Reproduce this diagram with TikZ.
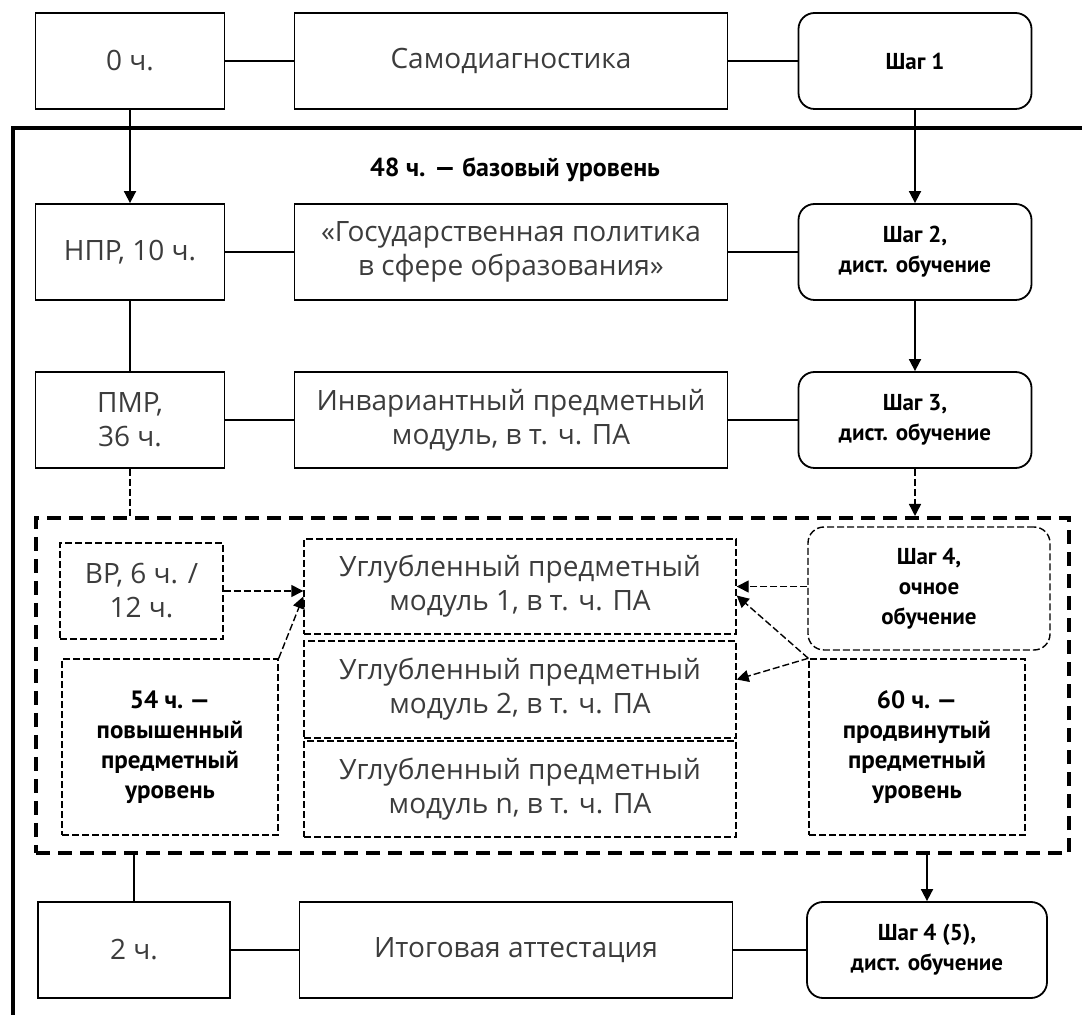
\documentclass[tikz,border=0pt]{standalone}
\usepackage{fontspec}
\setmainfont{Open Sans}
\newfontfamily\stepfont{PT Sans}
\usetikzlibrary{arrows.meta, positioning, calc}
\definecolor{textgray}{RGB}{60,60,60}

\begin{document}
\begin{tikzpicture}[x=0.5pt, y=-0.5pt, font=\fontsize{14}{17}\selectfont]
		% Styles for boxes and links
		\tikzset{box/.style={draw, line width=0.9pt, align=center, text=textgray, inner sep=0pt, minimum height=48pt}}
		\tikzset{stepbox/.style={box, rounded corners=8pt, text=black, font=\stepfont\bfseries\fontsize{11.5}{15}\selectfont}}
		\tikzset{dbox/.style={line width=0.7pt, dash pattern=on 3.5pt off 1.5pt}}
		\tikzset{bold/.style={text=black, font=\stepfont\bfseries\fontsize{12.5}{15}\selectfont}}
		\tikzset{link/.style={line width=0.9pt}}
		\tikzset{arr/.style={link, -{Triangle[length=6pt, width=6pt]}}}
		\tikzset{darr/.style={arr, line width=0.7pt, dash pattern=on 3.5pt off 1.5pt}}
		\tikzset{colA/.style={minimum width=94.5pt}}
		\tikzset{colB/.style={minimum width=216.5pt}}
		\tikzset{colC/.style={minimum width=116.5pt}}
		
		\useasboundingbox (0,0) rectangle (1082,1015);
		
		% Outer frame
		\draw[line width=2pt] (13,1015) -- (13,128) -- (1082,128);
		\node[bold, font=\stepfont\bfseries\fontsize{13}{15}\selectfont] (base) at (515,170) {48 ч. — базовый уровень};
		
		% Row 1
		\node[box, colA] (h0) at (130,61) {0 ч.};
		\node[box, colB] (self) at (511,61) {Самодиагностика};
		\node[stepbox, colC] (s1) at (915,61) {Шаг 1};
		
		% Row 2
		\node[box, colA] (npr) at (130,252) {НПР, 10 ч.};
		\node[box, colB] (gos) at (511,252) {«Государственная политика\\в сфере образования»};
		\node[stepbox, colC] (s2) at (915,252) {Шаг 2,\\дист. обучение};
		
		% Row 3
		\node[box, colA] (pmr) at (130,420) {ПМР,\\36 ч.};
		\node[box, colB] (inv) at (511,420) {Инвариантный предметный\\модуль, в т. ч. ПА};
		\node[stepbox, colC] (s3) at (915,420) {Шаг 3,\\дист. обучение};
		
		% Optional part
		\node[draw, line width=2pt, dash pattern=on 7pt off 4pt, minimum width=516.5pt, minimum height=167.5pt] (mods) at (552.5,685.5) {};
		\node[box, dbox, minimum width=81.5pt] (vr) at (141.5,591) {ВР, 6 ч. /\\12 ч.};
		\node[box, dbox, minimum width=216pt, minimum height=47.5pt] (m1) at (520,586.5) {Углубленный предметный\\модуль 1, в т. ч. ПА};
		\node[box, dbox, minimum width=216pt, minimum height=48.5pt] (m2) at (520,689.5) {Углубленный предметный\\модуль 2, в т. ч. ПА};
		\node[box, dbox, minimum width=216pt, minimum height=48pt] (mn) at (520,789) {Углубленный предметный\\модуль n, в т. ч. ПА};
		\node[stepbox, dbox, minimum width=121pt, minimum height=61.5pt] (s4) at (929,588.5) {Шаг 4,\\очное\\обучение};
		\node[box, dbox, bold, minimum width=108pt, minimum height=88pt] (l54) at (170,747) {54 ч.~—\\повышенный\\предметный\\уровень};
		\node[box, dbox, bold, minimum width=108pt, minimum height=88pt] (l60) at (917,747) {60 ч.~—\\продвинутый\\предметный\\уровень};
		
		% Row 4
		\node[box, minimum width=96pt] (h2) at (134,950) {2 ч.};
		\node[box, colB] (fin) at (516,950) {Итоговая аттестация};
		\node[stepbox, minimum width=120pt] (s45) at (927,950) {Шаг 4 (5),\\дист. обучение};
		
		% Links
		\draw[link] (h0) -- (self);
		\draw[link] (self) -- (s1);
		\draw[link] (npr) -- (gos);
		\draw[link] (gos) -- (s2);
		\draw[link] (pmr) -- (inv);
		\draw[link] (inv) -- (s3);
		\draw[link] (h2) -- (fin);
		\draw[link] (fin) -- (s45);
		\draw[arr] (h0) -- (npr);
		\draw[link] (npr) -- (pmr);
		\draw[arr] (s1) -- (s2);
		\draw[arr] (s2) -- (s3);
		\draw[link, dbox] (pmr.south) -- (pmr.south |- mods.north);
		\draw[darr] (s3.south) -- (s3.south |- mods.north);
		\draw[link] (mods.south -| h2.north) -- (h2.north);
		\draw[arr] (mods.south -| s45.north) -- (s45.north);
		
		% Links inside the optional part
		\draw[darr] (vr.east) -- (vr.east -| m1.west);
		\draw[darr] (l54.north east) -- ($(m1.west)+(0,10)$);
		\draw[darr] (s4.west |- m1.east) -- (m1.east);
		\draw[darr] (l60.north west) -- ($(m1.east)+(0,9)$);
		\draw[darr] (l60.north west) -- ($(m2.east)+(0,-10)$);
	\end{tikzpicture}
\end{document}
